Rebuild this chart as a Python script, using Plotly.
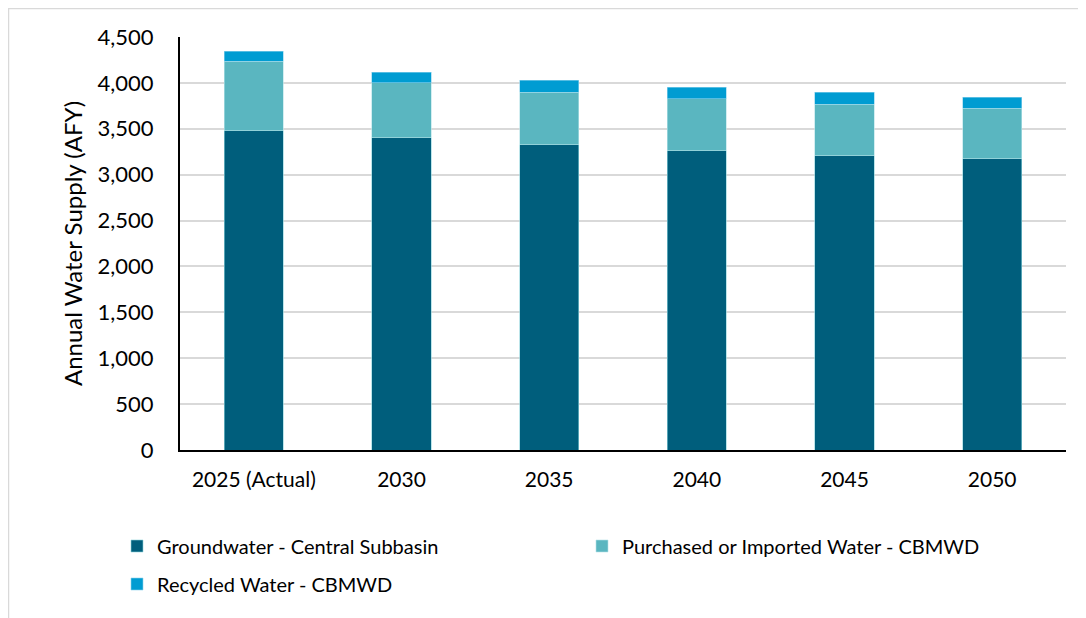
import plotly.graph_objects as go

categories = ["2025 (Actual)", "2030", "2035", "2040", "2045", "2050"]
groundwater = [3480, 3400, 3325, 3260, 3205, 3175]
purchased = [755, 600, 575, 568, 565, 550]
recycled = [110, 115, 128, 124, 127, 121]
y_ticks = [0, 500, 1000, 1500, 2000, 2500, 3000, 3500, 4000, 4500]
y_tick_labels = [f"{v:,}" for v in y_ticks]

# page body has 8px default margin: figure placed at (8, 8)
OFF = 8
W, H = 1078, 610
L, R, T, B = 180 - OFF, 20, 37 - OFF, 168
pw = W - L - R
ph = H - T - B


def px_x(x):
    return (x - OFF - L) / pw


def px_y(y):
    return (H - B - (y - OFF)) / ph


FONT = "Lato, Calibri, Carlito, sans-serif"

fig = go.Figure()
fig.add_trace(go.Bar(x=categories, y=groundwater, name="Groundwater - Central Subbasin", showlegend=True,
                     marker=dict(color="#005E7C", line=dict(width=0.6, color="#8FD3DC")), legend="legend"))
fig.add_trace(go.Bar(x=categories, y=purchased, name="Purchased or Imported Water - CBMWD", showlegend=True,
                     marker=dict(color="#5AB6C0", line=dict(width=0.6, color="#B5E3E8")), legend="legend3"))
fig.add_trace(go.Bar(x=categories, y=recycled, name="Recycled Water - CBMWD", showlegend=True,
                     marker=dict(color="#009CD2", line=dict(width=0.6, color="#8FD3EC")), legend="legend2"))

leg_common = dict(orientation="h", xanchor="left", yanchor="middle",
                  font=dict(size=20, family=FONT), itemwidth=30, bgcolor="rgba(0,0,0,0)")

fig.update_layout(
    width=W, height=H,
    showlegend=True,
    barmode="stack", bargap=0.6,
    paper_bgcolor="white", plot_bgcolor="white",
    margin=dict(l=L, r=R, t=T, b=B),
    font=dict(family=FONT, color="#000000"),
    xaxis=dict(showline=True, linecolor="#000000", linewidth=2, ticks="",
               tickfont=dict(size=21, family=FONT), ticklabelstandoff=10),
    yaxis=dict(range=[0, 4500], tickvals=y_ticks, ticktext=y_tick_labels,
               showgrid=True, gridcolor="#D9D9D9", gridwidth=1.5,
               showline=True, linecolor="#000000", linewidth=2, ticks="",
               tickfont=dict(size=22, family=FONT), ticklabelstandoff=20,
               zeroline=False,
               title=dict(text="Annual Water Supply (AFY)", font=dict(size=24, family=FONT), standoff=8)),
    legend=dict(x=px_x(117), y=px_y(546), **leg_common),
    legend3=dict(x=px_x(582), y=px_y(546), **leg_common),
    legend2=dict(x=px_x(117), y=px_y(584), **leg_common),
    shapes=[dict(type="rect", xref="paper", yref="paper",
                 x0=px_x(8.5), x1=px_x(W + 40),
                 y0=px_y(H + 40), y1=px_y(8.5),
                 line=dict(color="#D9D9D9", width=1.5), fillcolor="rgba(0,0,0,0)", layer="below")],
)

fig.write_html("out.html")
